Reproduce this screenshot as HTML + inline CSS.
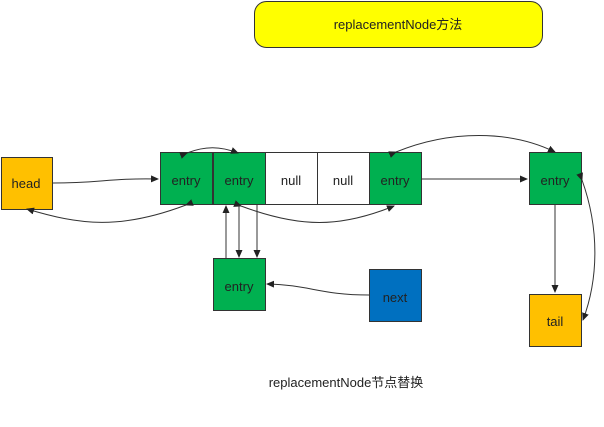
<!DOCTYPE html>
<html><head><style>
body{margin:0;background:#fff;}
svg text{font-family:"Liberation Sans","Noto Sans CJK SC",sans-serif;font-size:13px;fill:#222;}
</style></head><body>
<svg width="604" height="422" viewBox="0 0 604 422" xmlns="http://www.w3.org/2000/svg">
<defs><marker id="a" markerWidth="8" markerHeight="8" refX="7" refY="4" orient="auto" markerUnits="userSpaceOnUse"><path d="M0,0.5 L8,4 L0,7.5 z" fill="#222"/></marker></defs>
<rect x="254.5" y="1.5" width="288" height="46" rx="12" fill="#ffff00" stroke="#333"/>
<text x="398" y="29" text-anchor="middle">replacementNode方法</text>
<g stroke="#333" stroke-width="1">
<rect x="1.5" y="157.5" width="51" height="52" fill="#ffc000"/>
<rect x="160.5" y="152.5" width="52" height="52" fill="#00b050"/>
<rect x="213.5" y="152.5" width="52" height="52" fill="#00b050"/>
<rect x="265.5" y="152.5" width="52" height="52" fill="#fff"/>
<rect x="317.5" y="152.5" width="52" height="52" fill="#fff"/>
<rect x="369.5" y="152.5" width="52" height="52" fill="#00b050"/>
<rect x="529.5" y="152.5" width="52" height="52" fill="#00b050"/>
<rect x="529.5" y="294.5" width="52" height="52" fill="#ffc000"/>
<rect x="213.5" y="258.5" width="52" height="52" fill="#00b050"/>
<rect x="369.5" y="269.5" width="52" height="52" fill="#0070c0"/>
</g>
<g text-anchor="middle">
<text x="26" y="188">head</text>
<text x="186" y="185">entry</text>
<text x="239" y="185">entry</text>
<text x="291" y="185">null</text>
<text x="343" y="185">null</text>
<text x="395" y="185">entry</text>
<text x="555" y="185">entry</text>
<text x="555" y="326">tail</text>
<text x="239" y="291">entry</text>
<text x="395" y="302">next</text>
<text x="346" y="387">replacementNode节点替换</text>
</g>
<g fill="none" stroke="#333" stroke-width="1">
<path d="M53,183 C100,183 110,178 158,179" marker-end="url(#a)"/>
<path d="M186,205 C120,230 80,225 27,209" marker-start="url(#a)" marker-end="url(#a)"/>
<path d="M187,153 C205,146 220,146 238,153" marker-start="url(#a)" marker-end="url(#a)"/>
<path d="M241,206 C300,228 340,228 394,206" marker-start="url(#a)" marker-end="url(#a)"/>
<path d="M226,258 L226,206" marker-end="url(#a)"/>
<path d="M239,205 L239,257" marker-end="url(#a)"/>
<path d="M257,205 L257,257" marker-end="url(#a)"/>
<path d="M369,295 C320,295 310,285 267,284" marker-end="url(#a)"/>
<path d="M422,179 L527,179" marker-end="url(#a)"/>
<path d="M555,205 L555,292" marker-end="url(#a)"/>
<path d="M582,180 C600,230 598,280 583,320" marker-start="url(#a)" marker-end="url(#a)"/>
<path d="M396,152 C450,130 510,130 555,152" marker-start="url(#a)" marker-end="url(#a)"/>
</g>
</svg>
</body></html>
